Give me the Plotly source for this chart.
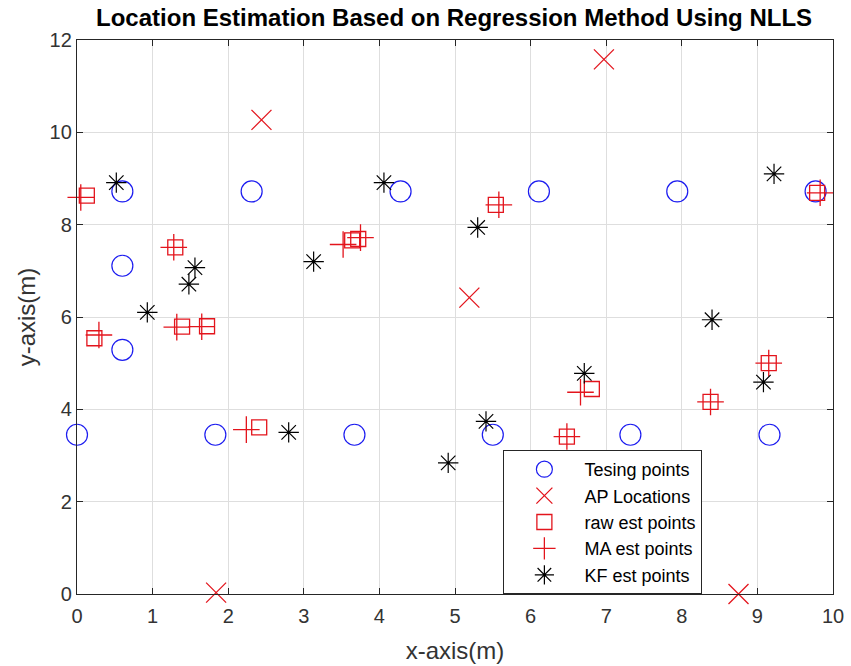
import plotly.graph_objects as go

# Testing points
test_x = [0.60, 2.31, 4.28, 6.11, 7.94, 9.77, 0.60, 0.60, 0.00, 1.83, 3.67, 5.50, 7.32, 9.16]
test_y = [8.72, 8.72, 8.72, 8.72, 8.72, 8.72, 7.11, 5.29, 3.45, 3.45, 3.45, 3.45, 3.45, 3.45]

# AP locations
ap_x = [2.44, 6.97, 5.19, 1.84, 8.75]
ap_y = [10.27, 11.58, 6.42, 0.03, 0.00]

# raw estimated points
raw_x = [0.13, 1.30, 3.64, 3.72, 0.23, 1.39, 1.72, 2.41, 5.54, 9.79, 6.48, 6.81, 8.38, 9.15]
raw_y = [8.63, 7.51, 7.66, 7.69, 5.54, 5.79, 5.80, 3.61, 8.43, 8.69, 3.41, 4.44, 4.16, 5.00]

# MA estimated points
ma_x = [0.05, 1.28, 3.52, 3.75, 0.29, 1.32, 1.65, 2.24, 5.58, 9.83, 6.48, 6.66, 8.38, 9.15]
ma_y = [8.59, 7.51, 7.57, 7.72, 5.61, 5.78, 5.79, 3.56, 8.43, 8.69, 3.41, 4.37, 4.16, 5.00]

# KF estimated points
kf_x = [0.52, 4.06, 3.13, 1.56, 1.48, 0.93, 5.30, 9.22, 8.40, 2.80, 5.41, 4.91, 6.71, 9.08]
kf_y = [8.91, 8.91, 7.20, 7.07, 6.71, 6.10, 7.94, 9.10, 5.94, 3.50, 3.74, 2.84, 4.78, 4.59]

RED = "#e3141c"
BLUE = "#1c1cf0"
FONT = "Liberation Sans, Arial, sans-serif"

fig = go.Figure()
fig.add_trace(go.Scatter(x=test_x, y=test_y, mode="markers", name="Tesing points",
                         marker=dict(symbol="circle-open", size=21, color=BLUE, line=dict(color=BLUE, width=1.2)),
                         cliponaxis=False))
fig.add_trace(go.Scatter(x=ap_x, y=ap_y, mode="markers", name="AP Locations",
                         marker=dict(symbol="x-thin-open", size=20, color=RED, line=dict(color=RED, width=1.3)),
                         cliponaxis=False))
fig.add_trace(go.Scatter(x=raw_x, y=raw_y, mode="markers", name="raw est points",
                         marker=dict(symbol="square-open", size=15, color=RED, line=dict(color=RED, width=1.3)),
                         cliponaxis=False))
fig.add_trace(go.Scatter(x=ma_x, y=ma_y, mode="markers", name="MA est points",
                         marker=dict(symbol="cross-thin-open", size=19, color=RED, line=dict(color=RED, width=1.3)),
                         cliponaxis=False))
fig.add_trace(go.Scatter(x=kf_x, y=kf_y, mode="markers", name="KF est points",
                         marker=dict(symbol="asterisk-open", size=17, color="black", line=dict(color="black", width=1.2)),
                         cliponaxis=False))

axis_common = dict(
    showgrid=True, gridcolor="#dedede", gridwidth=1,
    showline=True, linecolor="#262626", linewidth=1.3, mirror="ticks",
    ticks="inside", ticklen=6, tickcolor="#262626", tickwidth=1,
    tickfont=dict(family=FONT, size=20, color="#333333"),
    zeroline=False, automargin=False,
)

fig.update_layout(
    width=851, height=666,
    margin=dict(l=77, r=18, t=40, b=72),
    paper_bgcolor="white", plot_bgcolor="white",
    title=dict(text="<b>Location Estimation Based on Regression Method Using NLLS</b>",
               x=0.5336, xanchor="center", y=0.973, yanchor="middle",
               font=dict(family=FONT, size=24, color="black")),
    xaxis=dict(range=[0, 10], dtick=1, tick0=0, ticklabelstandoff=4,
               title=dict(text="x-axis(m)", standoff=16,
                          font=dict(family=FONT, size=24, color="#333333")),
               **axis_common),
    yaxis=dict(range=[0, 12], dtick=2, tick0=0,
               title=dict(text="y-axis(m)", standoff=7,
                          font=dict(family=FONT, size=24, color="#333333")),
               **axis_common),
    legend=dict(x=0.564, y=0, xanchor="left", yanchor="bottom",
                bgcolor="white", bordercolor="#262626", borderwidth=1,
                font=dict(family=FONT, size=18, color="black"),
                itemsizing="trace", itemwidth=70),
)

fig.write_html("out.html")
